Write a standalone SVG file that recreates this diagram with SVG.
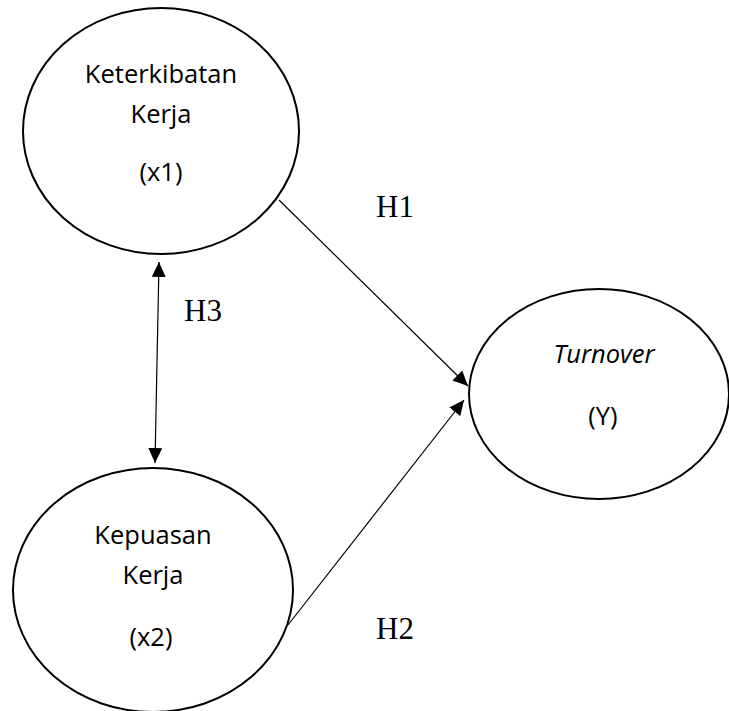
<svg xmlns="http://www.w3.org/2000/svg" width="729" height="711" viewBox="0 0 729 711">
  <style>
    .node { fill: #ffffff; stroke: #000000; stroke-width: 2; }
    .lbl { font-family: "Open Sans", "Noto Sans", "Liberation Sans", sans-serif; font-size: 25.5px; fill: #000000; text-anchor: middle; }
    .it { font-style: italic; }
    .hyp { font-family: "Liberation Serif", "Times New Roman", serif; font-size: 31px; fill: #000000; }
    .conn { stroke: #000000; stroke-width: 1.2; fill: none; }
  </style>
  <defs>
    <marker id="arrow" viewBox="0 0 15 14" refX="15" refY="7" markerWidth="15" markerHeight="14" markerUnits="userSpaceOnUse" orient="auto-start-reverse">
      <path d="M0,0 L15,7 L0,14 Z" fill="#000000"/>
    </marker>
  </defs>
  <rect x="0" y="0" width="729" height="711" fill="#ffffff"/>

  <g id="node-x1">
    <ellipse class="node" cx="161" cy="131" rx="138" ry="123"/>
    <text class="lbl" x="161" y="83">Keterkibatan</text>
    <text class="lbl" x="161" y="123">Kerja</text>
    <text class="lbl" x="161" y="181">(x1)</text>
  </g>

  <g id="node-x2">
    <ellipse class="node" cx="153" cy="590" rx="140" ry="122"/>
    <text class="lbl" x="153" y="544">Kepuasan</text>
    <text class="lbl" x="153" y="584">Kerja</text>
    <text class="lbl" x="151" y="646">(x2)</text>
  </g>

  <g id="node-y">
    <ellipse class="node" cx="599" cy="394" rx="130" ry="105"/>
    <text class="lbl it" x="604" y="363">Turnover</text>
    <text class="lbl" x="603" y="425">(Y)</text>
  </g>

  <g id="connectors">
    <line class="conn" x1="279" y1="200" x2="468" y2="386" marker-end="url(#arrow)"/>
    <line class="conn" x1="288" y1="625" x2="464" y2="400" marker-end="url(#arrow)"/>
    <line class="conn" x1="159" y1="262" x2="155" y2="463" marker-start="url(#arrow)" marker-end="url(#arrow)"/>
  </g>

  <g id="labels">
    <text class="hyp" x="376" y="217">H1</text>
    <text class="hyp" x="376" y="639">H2</text>
    <text class="hyp" x="184" y="321">H3</text>
  </g>
</svg>
